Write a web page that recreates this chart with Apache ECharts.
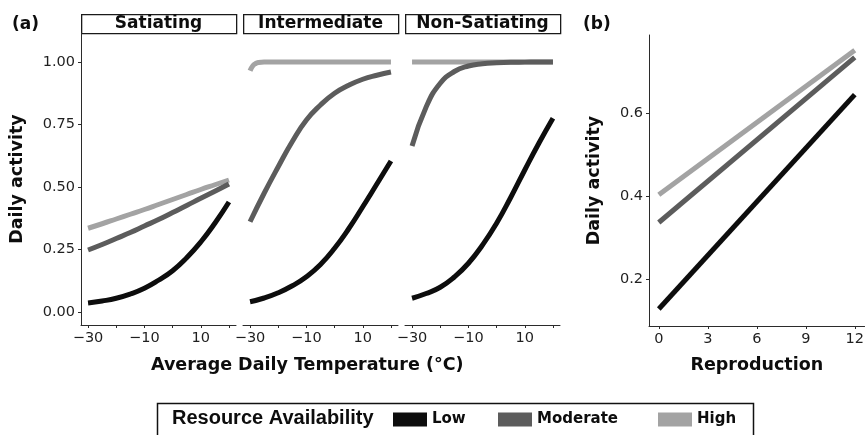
<!DOCTYPE html>
<html>
<head>
<meta charset="utf-8">
<script src="https://cdn.jsdelivr.net/npm/echarts@6/dist/echarts.min.js"></script>
<style>
  html, body { margin: 0; padding: 0; background: #fff; }
  #chart { width: 867px; height: 435px; }
</style>
</head>
<body>
<div id="chart"></div>
<script>
// facet titles and legend levels
var panels = ['Satiating', 'Intermediate', 'Non-Satiating'];
var levels = ['Low', 'Moderate', 'High'];
var levelColors = ['#0d0d0d', '#5c5c5c', '#a3a3a3'];

// tick values
var tempTicks = [-30, -20, -10, 0, 10, 20];
var tempLabels = [-30, -10, 10];
var activityTicks = [0, 0.25, 0.5, 0.75, 1];
var reproTicks = [0, 3, 6, 9, 12];
var reproActivityTicks = [0.2, 0.4, 0.6];

// (a) daily activity vs temperature
var tempX = [-30, -25, -20, -15, -10, -5, 0, 5, 10, 15, 20];
var satLow = [0.036, 0.044, 0.055, 0.072, 0.095, 0.127, 0.165, 0.217, 0.28, 0.355, 0.44];
var satModerate = [0.248, 0.27, 0.294, 0.318, 0.344, 0.37, 0.398, 0.426, 0.455, 0.483, 0.512];
var satHigh = [0.335, 0.353, 0.372, 0.391, 0.41, 0.43, 0.45, 0.47, 0.49, 0.509, 0.528];
var intLow = [0.041, 0.056, 0.077, 0.105, 0.141, 0.19, 0.255, 0.333, 0.421, 0.512, 0.604];
var intModerate = [0.361, 0.475, 0.581, 0.682, 0.768, 0.828, 0.875, 0.907, 0.931, 0.947, 0.96];
var intHighX = [-30, -29, -28, -27, -25, -20, -10, 0, 10, 20];
var intHigh = [0.965, 0.985, 0.994, 0.998, 1, 1, 1, 1, 1, 1];
var nonLow = [0.055, 0.074, 0.099, 0.14, 0.195, 0.268, 0.355, 0.458, 0.568, 0.675, 0.775];
var nonModerate = [0.664, 0.82, 0.915, 0.962, 0.984, 0.993, 0.997, 0.999, 0.9995, 1, 1];
var nonHigh = [1, 1, 1, 1, 1, 1, 1, 1, 1, 1, 1];

// (b) daily activity vs reproduction
var reproX = [0, 12];
var reproLow = [0.128, 0.646];
var reproModerate = [0.337, 0.736];
var reproHigh = [0.404, 0.753];

function pairs(xs, ys) {
    var out = [];
    for (var i = 0; i < xs.length; i++) {
        out.push([xs[i], ys[i]]);
    }
    return out;
}

function extend(base, extra) {
    var o = {};
    for (var k in base) o[k] = base[k];
    for (var j in extra) o[j] = extra[j];
    return o;
}

var myChart = echarts.init(document.getElementById('chart'), null, { renderer: 'canvas' });

var axisColor = '#2b2b2b';
var axisLine = { show: true, onZero: false, lineStyle: { color: axisColor, width: 1 } };
var labelStyle = { color: '#1f1f1f', fontSize: 14.5, fontFamily: 'DejaVu Sans' };
var titleStyle = { color: '#0d0d0d', fontSize: 17.5, fontWeight: 'bold', fontFamily: 'DejaVu Sans' };

var panelLeft = [81, 243, 405];
var grids = [];
var xAxes = [];
var yAxes = [];
var graphics = [];

for (var p = 0; p < panels.length; p++) {
    grids.push({ left: panelLeft[p], top: 33, width: 155, height: 292 });
    xAxes.push({
        type: 'value', gridIndex: p, min: -32.5, max: 22.5,
        axisLine: axisLine,
        axisTick: { show: true, length: 3, customValues: tempTicks, lineStyle: { color: axisColor } },
        axisLabel: extend(labelStyle, {
            customValues: tempLabels, margin: 6,
            formatter: function (v) { return String(v).replace('-', '\u2212'); }
        }),
        splitLine: { show: false }
    });
    yAxes.push({
        type: 'value', gridIndex: p, min: -0.052, max: 1.116, show: p === 0,
        name: p === 0 ? 'Daily activity' : '', nameLocation: 'middle', nameGap: 55, nameRotate: 90,
        nameTextStyle: titleStyle,
        axisLine: axisLine,
        axisTick: { show: true, length: 3, customValues: activityTicks, lineStyle: { color: axisColor } },
        axisLabel: extend(labelStyle, {
            customValues: activityTicks, margin: 6,
            formatter: function (v) { return v.toFixed(2); }
        }),
        splitLine: { show: false }
    });
    // facet strip
    graphics.push({
        type: 'rect', left: panelLeft[p], top: 14, silent: true,
        shape: { width: 155, height: 19 },
        style: { fill: '#fff', stroke: '#1a1a1a', lineWidth: 1.3 }
    });
    graphics.push({
        type: 'text', x: panelLeft[p] + 77.5, y: 24, silent: true,
        style: { text: panels[p], fill: '#0d0d0d', font: 'bold 17px "DejaVu Sans"', textAlign: 'center', textVerticalAlign: 'middle' }
    });
}

// panel (b)
grids.push({ left: 649, top: 35, width: 218, height: 291 });
xAxes.push({
    type: 'value', gridIndex: 3, min: -0.6, max: 12.6,
    name: 'Reproduction', nameLocation: 'middle', nameGap: 30, nameTextStyle: titleStyle,
    axisLine: axisLine,
    axisTick: { show: true, length: 3, customValues: reproTicks, lineStyle: { color: axisColor } },
    axisLabel: extend(labelStyle, { customValues: reproTicks, margin: 6 }),
    splitLine: { show: false }
});
yAxes.push({
    type: 'value', gridIndex: 3, min: 0.087, max: 0.79,
    name: 'Daily activity', nameLocation: 'middle', nameGap: 46, nameRotate: 90, nameTextStyle: titleStyle,
    axisLine: axisLine,
    axisTick: { show: true, length: 3, customValues: reproActivityTicks, lineStyle: { color: axisColor } },
    axisLabel: extend(labelStyle, {
        customValues: reproActivityTicks, margin: 6,
        formatter: function (v) { return v.toFixed(1); }
    }),
    splitLine: { show: false }
});

function lineSeries(name, idx, data, smooth) {
    var c = levelColors[levels.indexOf(name)];
    return {
        type: 'line', name: name, xAxisIndex: idx, yAxisIndex: idx,
        data: data, showSymbol: false, smooth: smooth, silent: true,
        itemStyle: { color: c },
        lineStyle: { color: c, width: 5, cap: 'butt' }
    };
}

// draw order: High underneath, Low on top
var series = [
    lineSeries('High', 0, pairs(tempX, satHigh), true),
    lineSeries('Moderate', 0, pairs(tempX, satModerate), true),
    lineSeries('Low', 0, pairs(tempX, satLow), true),
    lineSeries('High', 1, pairs(intHighX, intHigh), true),
    lineSeries('Moderate', 1, pairs(tempX, intModerate), true),
    lineSeries('Low', 1, pairs(tempX, intLow), true),
    lineSeries('High', 2, pairs(tempX, nonHigh), true),
    lineSeries('Moderate', 2, pairs(tempX, nonModerate), true),
    lineSeries('Low', 2, pairs(tempX, nonLow), true),
    lineSeries('High', 3, pairs(reproX, reproHigh), false),
    lineSeries('Moderate', 3, pairs(reproX, reproModerate), false),
    lineSeries('Low', 3, pairs(reproX, reproLow), false)
];

// panel tags, shared x title, legend box
graphics.push({
    type: 'text', x: 12, y: 25, silent: true,
    style: { text: '(a)', fill: '#0d0d0d', font: 'bold 17px "DejaVu Sans"', textVerticalAlign: 'middle' }
});
graphics.push({
    type: 'text', x: 583, y: 25, silent: true,
    style: { text: '(b)', fill: '#0d0d0d', font: 'bold 17px "DejaVu Sans"', textVerticalAlign: 'middle' }
});
graphics.push({
    type: 'text', x: 151, y: 356, silent: true,
    style: { text: 'Average Daily Temperature (\u00B0C)', fill: '#0d0d0d', font: 'bold 17.5px "DejaVu Sans"', textVerticalAlign: 'top' }
});
graphics.push({
    type: 'rect', left: 155, top: 401, silent: true,
    shape: { width: 596, height: 60 },
    style: { fill: 'none', stroke: '#111', lineWidth: 1.5 }
});
graphics.push({
    type: 'text', x: 172, y: 418, silent: true,
    style: { text: 'Resource Availability', fill: '#0d0d0d', font: 'bold 20px "Liberation Sans"', textVerticalAlign: 'middle' }
});

var legendLeft = [393, 498, 658];
var legends = [];
for (var i = 0; i < levels.length; i++) {
    legends.push({
        left: legendLeft[i], top: 412, padding: 0, data: [levels[i]], icon: 'rect',
        itemWidth: 34, itemHeight: 14, selectedMode: false,
        textStyle: { color: '#0d0d0d', fontSize: 15, fontWeight: 'bold', fontFamily: 'DejaVu Sans' }
    });
}

var option = {
    animation: false,
    backgroundColor: '#fff',
    grid: grids,
    xAxis: xAxes,
    yAxis: yAxes,
    legend: legends,
    series: series,
    graphic: graphics
};
myChart.setOption(option);
window.addEventListener('resize', function () {
    myChart.resize();
});
</script>
</body>
</html>
